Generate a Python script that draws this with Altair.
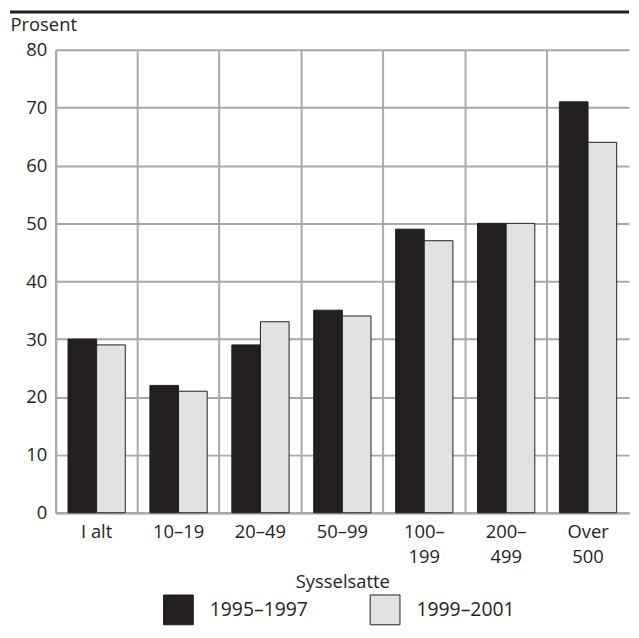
import altair as alt
import pandas as pd

categories = ["I alt", "10–19", "20–49", "50–99", "100–199", "200–499", "Over 500"]
series = ["1995–1997", "1999–2001"]
values_1995 = [30, 22, 29, 35, 49, 50, 71]
values_1999 = [29, 21, 33, 34, 47, 50, 64]
y_ticks = [0, 10, 20, 30, 40, 50, 60, 70, 80]

rows = []
for c, a, b in zip(categories, values_1995, values_1999):
    rows.append({"cat": c, "series": series[0], "value": a})
    rows.append({"cat": c, "series": series[1], "value": b})
df = pd.DataFrame(rows)

W, H = 577, 466
FONT = "Open Sans"
FS = 18.5
INK = "#231f20"
GRID = "#a7a9ac"
LIGHT = "#e1e2e4"

label_expr = (
    "datum.label == 'Over 500' ? ['Over', '500'] : "
    "(length(datum.label) > 6 ? [slice(datum.label, 0, 4), slice(datum.label, 4)] : datum.label)"
)

bars = alt.Chart(df).mark_bar(stroke=INK, strokeWidth=1).encode(
    x=alt.X(
        "cat:N",
        sort=categories,
        scale=alt.Scale(paddingInner=0, paddingOuter=0),
        axis=alt.Axis(
            title="Sysselsatte",
            labelAngle=0,
            grid=True,
            bandPosition=0,
            ticks=False,
            gridColor=GRID,
            gridWidth=2,
            domainColor=GRID,
            domainWidth=2.5,
            labelExpr=label_expr,
            labelPadding=10,
            labelLineHeight=25,
            labelFontSize=FS,
            labelFont=FONT,
            labelColor=INK,
            labelBaseline="top",
            titleFontSize=FS,
            titleFont=FONT,
            titleFontWeight="normal",
            titleColor=INK,
            titleBaseline="alphabetic",
            titleY=75,
        ),
    ),
    xOffset=alt.XOffset(
        "series:N", sort=series, scale=alt.Scale(paddingInner=0, paddingOuter=0.43)
    ),
    y=alt.Y(
        "value:Q",
        scale=alt.Scale(domain=[0, 80], nice=False),
        axis=alt.Axis(
            values=y_ticks,
            title="Prosent",
            titleAngle=0,
            titleX=-46,
            titleY=-19,
            titleAlign="left",
            titleBaseline="alphabetic",
            titleFontSize=FS,
            titleFont=FONT,
            titleFontWeight="normal",
            titleColor=INK,
            ticks=False,
            grid=True,
            gridColor=GRID,
            gridWidth=2,
            domainColor=GRID,
            domainWidth=2,
            labelFontSize=FS,
            labelFont=FONT,
            labelColor=INK,
            labelPadding=9,
        ),
    ),
    fill=alt.Fill(
        "series:N",
        sort=series,
        scale=alt.Scale(domain=series, range=[INK, LIGHT]),
        legend=alt.Legend(
            orient="none",
            legendX=108,
            legendY=548,
            direction="horizontal",
            title=None,
            symbolType="square",
            symbolSize=900,
            symbolStrokeColor=INK,
            symbolStrokeWidth=1,
            symbolOpacity=1,
            labelFontSize=19.5,
            labelFont=FONT,
            labelColor=INK,
            labelOffset=16,
            columnPadding=60,
            padding=0,
        ),
    ),
)

top_rule = alt.Chart(pd.DataFrame({"a": [0]})).mark_rule(color=INK, strokeWidth=3).encode(
    x=alt.value(-46), x2=alt.value(W), y=alt.value(-38)
)

chart = (
    alt.layer(bars, top_rule)
    .properties(
        width=W,
        height=H,
        padding={"left": 0, "right": 0, "top": 0, "bottom": 0},
        autosize=alt.AutoSizeParams(type="pad"),
    )
    .configure_view(stroke=None)
)

chart.save("out.html", embed_options={"renderer": "svg", "actions": False})
